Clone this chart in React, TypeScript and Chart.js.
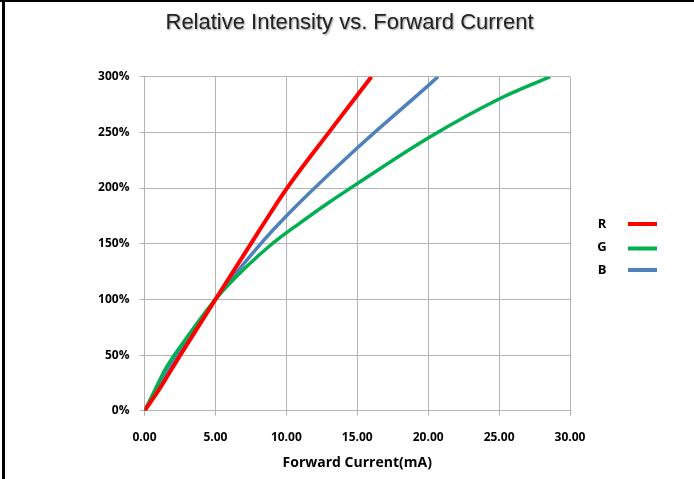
import React, { useEffect, useRef } from "react";
import { Chart, registerables } from "chart.js";

Chart.register(...registerables);

const TITLE = "Relative Intensity vs. Forward Current";
const X_TITLE = "Forward Current(mA)";
const SERIES_NAMES = ["R", "G", "B"];
const SERIES_COLORS = ["#FF0000", "#00B050", "#4F81BD"];

const R_X = [0, 1, 2.5, 5, 8, 10, 13, 16];
const R_Y = [0, 18.5, 49.5, 100, 160, 199, 250, 300];

const G_X = [0, 0.75, 1.5, 3, 5, 7, 9, 11, 13, 15, 20, 25, 28.6];
const G_Y = [0, 19, 38, 66, 100, 127, 150, 169, 187, 204, 245, 280, 300];

const B_X = [0, 1, 2.3, 5, 8.4, 10, 15, 20, 20.7];
const B_Y = [0, 21, 50, 100, 153, 175, 236, 292, 300];

const X_MIN = 0;
const X_MAX = 30;
const X_STEP = 5;
const Y_MIN = 0;
const Y_MAX = 300;
const Y_STEP = 50;

const toPts = (xs: number[], ys: number[]) => xs.map((x, i) => ({ x, y: ys[i] }));

const overlayPlugin = {
  id: "overlay",
  afterDraw(chart: any) {
    const ctx = chart.ctx;
    ctx.save();
    // title
    ctx.font = "22px 'Liberation Sans', Arial";
    ctx.textAlign = "center";
    ctx.textBaseline = "middle";
    ctx.shadowColor = "rgba(0,0,0,0.4)";
    ctx.shadowBlur = 2;
    ctx.shadowOffsetX = 1;
    ctx.shadowOffsetY = 1;
    ctx.fillStyle = "#222";
    ctx.fillText(TITLE, 349.5, 23);
    ctx.shadowColor = "transparent";
    ctx.shadowBlur = 0;
    ctx.shadowOffsetX = 0;
    ctx.shadowOffsetY = 0;
    // legend
    const rows = [224, 247, 270];
    const lineY = [224, 248.5, 270];
    chart.data.datasets.forEach((ds: any, i: number) => {
      ctx.font = "bold 13px 'Open Sans'";
      ctx.fillStyle = "#000";
      ctx.textAlign = "center";
      ctx.textBaseline = "middle";
      ctx.fillText(ds.label, 602, rows[i]);
      ctx.strokeStyle = ds.borderColor;
      ctx.lineWidth = 4;
      ctx.beginPath();
      ctx.moveTo(628, lineY[i]);
      ctx.lineTo(657, lineY[i]);
      ctx.stroke();
    });
    ctx.restore();
  },
};

export default function App() {
  const ref = useRef<HTMLCanvasElement>(null);
  useEffect(() => {
    if (!ref.current) return;
    const datasets = [
      { label: SERIES_NAMES[0], data: toPts(R_X, R_Y), borderColor: SERIES_COLORS[0], borderWidth: 4 },
      { label: SERIES_NAMES[1], data: toPts(G_X, G_Y), borderColor: SERIES_COLORS[1], borderWidth: 3.5 },
      { label: SERIES_NAMES[2], data: toPts(B_X, B_Y), borderColor: SERIES_COLORS[2], borderWidth: 3.5 },
    ].map((d) => ({
      ...d,
      backgroundColor: d.borderColor,
      pointRadius: 0,
      fill: false,
      tension: 0.4,
      cubicInterpolationMode: "monotone" as const,
    }));
    const chart = new Chart(ref.current, {
      type: "line",
      data: { datasets },
      options: {
        animation: false,
        responsive: false,
        devicePixelRatio: 1,
        layout: { padding: { left: 0, right: 124, top: 76.7, bottom: 0 } },
        plugins: {
          legend: { display: false },
          tooltip: { enabled: false },
          title: { display: false },
        },
        scales: {
          x: {
            type: "linear",
            min: X_MIN,
            max: X_MAX,
            afterFit: (s: any) => { s.height = 68.2; },
            ticks: {
              stepSize: X_STEP,
              padding: 15,
              color: "#000",
              font: { family: "'Open Sans'", size: 12, weight: "bold" },
              callback: (v: any) => Number(v).toFixed(2),
              maxRotation: 0,
            },
            grid: { color: "#B4B4B4", lineWidth: 1, tickLength: 5 },
            border: { color: "#B4B4B4" },
            title: {
              display: true,
              text: X_TITLE,
              color: "#000",
              font: { family: "'Open Sans'", size: 14, weight: "bold" },
              padding: { top: 0, bottom: 8 },
            },
          },
          y: {
            type: "linear",
            min: Y_MIN,
            max: Y_MAX,
            afterFit: (s: any) => { s.width = 144.5; },
            ticks: {
              stepSize: Y_STEP,
              padding: 10,
              color: "#000",
              font: { family: "'Open Sans'", size: 12, weight: "bold" },
              callback: (v: any) => `${v}%`,
            },
            grid: { color: "#B4B4B4", lineWidth: 1, tickLength: 5 },
            border: { color: "#B4B4B4" },
          },
        },
      },
      plugins: [overlayPlugin],
    });
    return () => chart.destroy();
  }, []);
  return (
    <div style={{ position: "absolute", left: 0, top: 0, width: 694, height: 479, background: "#fff", overflow: "hidden" }}>
      <canvas ref={ref} width={694} height={479} style={{ position: "absolute", left: 0, top: 0, width: 694, height: 479 }} />
      <div style={{ position: "absolute", left: 0, top: 0, width: 694, height: 2, background: "#000" }} />
      <div style={{ position: "absolute", left: 2, top: 0, width: 3, height: 479, background: "#000" }} />
    </div>
  );
}
